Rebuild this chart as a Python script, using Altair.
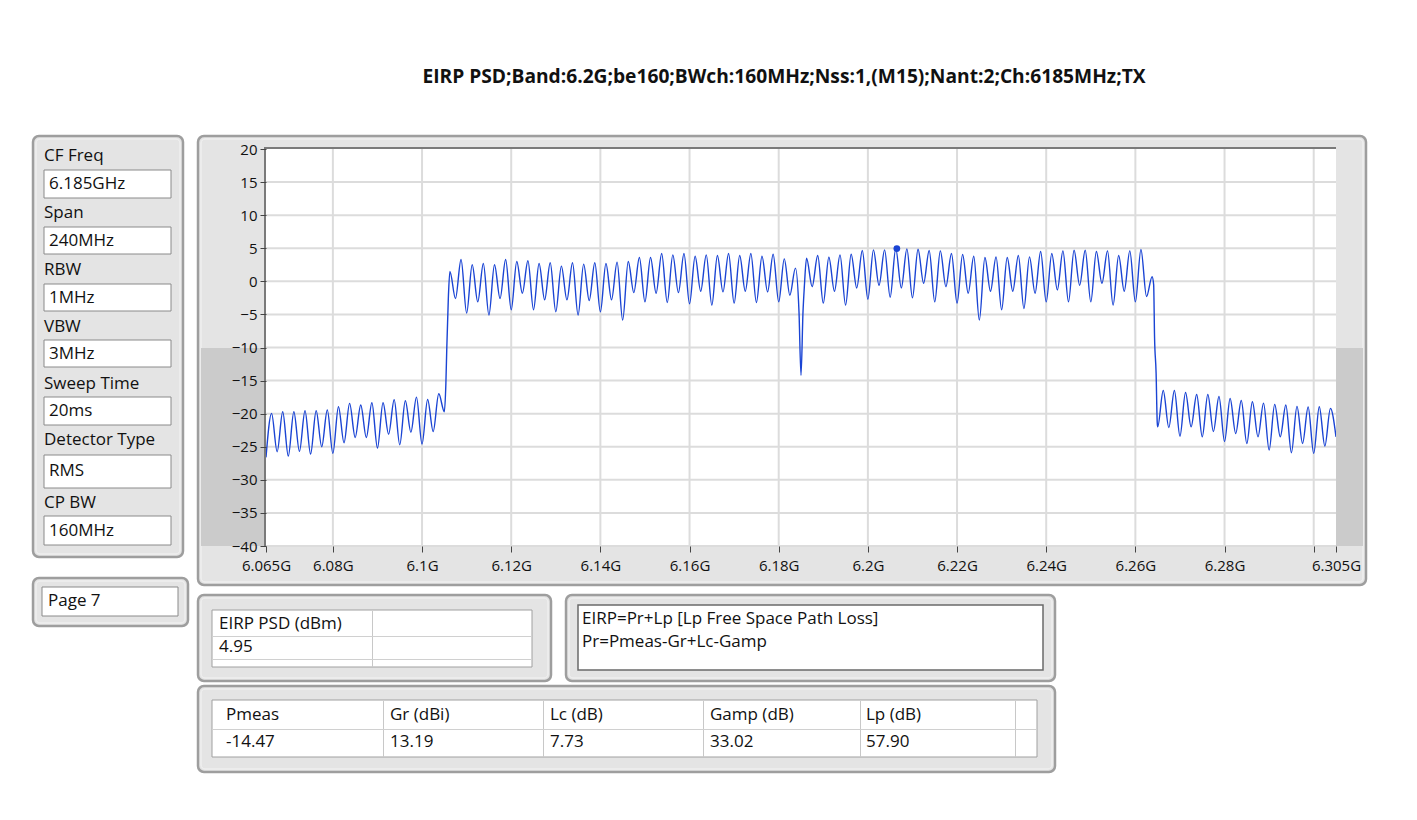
import altair as alt
import pandas as pd

# ---------------- data ----------------
title_text = "EIRP PSD;Band:6.2G;be160;BWch:160MHz;Nss:1,(M15);Nant:2;Ch:6185MHz;TX"
setting_names = ["CF Freq", "Span", "RBW", "VBW", "Sweep Time", "Detector Type", "CP BW"]
setting_values = ["6.185GHz", "240MHz", "1MHz", "3MHz", "20ms", "RMS", "160MHz"]
page_label = ["Page 7"]
eirp_header = ["EIRP PSD (dBm)"]
eirp_values = ["4.95"]
formula_lines = ["EIRP=Pr+Lp [Lp Free Space Path Loss]", "Pr=Pmeas-Gr+Lc-Gamp"]
param_headers = ["Pmeas", "Gr (dBi)", "Lc (dB)", "Gamp (dB)", "Lp (dB)"]
param_values = ["-14.47", "13.19", "7.73", "33.02", "57.90"]

# spectrum trace: analyzer sweep grid (start / step in MHz) and levels in dBm
sweep_start_mhz = 6065.0
sweep_step_mhz = 1.25
level_left = [-26.6, -19.95, -25.75, -19.7, -26.4, -19.7, -25.7, -19.55, -26.1, -19.55,
              -25.0, -19.45, -26.0, -18.95, -24.4, -18.45, -23.6, -18.7, -23.6, -18.35,
              -25.2, -18.35, -23.1, -17.9, -24.7, -18.05, -22.8, -17.5, -24.6, -17.85,
              -22.7, -17.0, -19.7]
level_band = [1.5, -2.6, 3.3, -4.8, 2.5, -3.1, 2.7, -5.1, 2.5, -2.6,
              3.3, -4.3, 3.0, -1.8, 3.1, -4.3, 2.7, -2.8, 2.8, -4.6,
              2.3, -2.8, 2.8, -5.1, 2.6, -2.9, 2.8, -4.6, 2.7, -2.8,
              2.9, -5.85, 3.0, -1.7, 3.6, -3.1, 3.6, -1.8, 4.2, -3.2,
              4.0, -1.7, 4.2, -3.4, 3.8, -1.5, 4.0, -3.6, 3.9, -1.6,
              4.2, -3.3, 3.9, -1.5, 4.2, -3.2, 3.8, -1.6, 4.1, -3.1,
              3.4, -2.1, 2.0, -14.2, 3.5, -0.8, 3.9, -3.3, 3.65, -1.5,
              4.0, -3.6, 4.1, -1.0, 4.65, -2.7, 4.75, -0.6, 4.75, -2.4,
              4.95, -1.0, 4.9, -2.5, 4.85, -0.3, 4.65, -3.1, 4.6, -0.8,
              4.2, -3.3, 4.05, -1.8, 3.8, -5.85, 3.6, -1.5, 3.7, -4.3,
              3.6, -1.5, 3.9, -4.1, 3.7, -1.8, 4.5, -3.1, 4.2, -1.3,
              4.6, -3.1, 4.7, -0.6, 4.7, -3.1, 4.5, -0.3, 4.6, -3.6,
              3.9, -1.5, 4.6, -3.1, 4.8, -2.3, 0.7]
level_right = [-22.0, -16.5, -22.1, -16.5, -23.4, -16.8, -22.0, -17.1, -23.5, -17.1,
               -22.7, -17.4, -24.2, -17.7, -23.0, -18.0, -24.5, -18.2, -23.5, -18.4,
               -25.5, -18.6, -23.5, -18.7, -25.9, -18.9, -24.5, -19.0, -26.0, -18.95,
               -24.9, -19.2, -23.5]
# extra points on the channel edges and the centre notch
edge_freq_mhz = [6105.35, 6105.55, 6105.9, 6184.55, 6185.45, 6185.75, 6264.1, 6264.3, 6264.65, 6264.9]
edge_level = [-15.4, -10.1, -2.5, -4.6, -4.6, -0.8, -0.5, -8.4, -13.9, -21.3]
marker_freq_mhz = [6206.5]
marker_level = [4.95]

x_tick_mhz = [6065, 6080, 6100, 6120, 6140, 6160, 6180, 6200, 6220, 6240, 6260, 6280, 6300, 6305]
x_tick_text = ["6.065G", "6.08G", "6.1G", "6.12G", "6.14G", "6.16G", "6.18G", "6.2G",
               "6.22G", "6.24G", "6.26G", "6.28G", "", "6.305G"]
y_ticks = [-40, -35, -30, -25, -20, -15, -10, -5, 0, 5, 10, 15, 20]

# ---------------- layout (page pixels) ----------------
OX, OY = 266, 149          # plot origin on the page
W, H = 1070, 397           # plot size
PAGE_W, PAGE_H = 1409, 808  # right / bottom edge of the drawing on the page
FONT = "Open Sans"

levels = level_left + level_band + level_right
grid_freq = [sweep_start_mhz + sweep_step_mhz * i for i in range(len(levels))]
trace = pd.DataFrame({"mhz": grid_freq + edge_freq_mhz, "dbm": levels + edge_level}).sort_values("mhz")
marker = pd.DataFrame({"mhz": marker_freq_mhz, "dbm": marker_level})

PANEL_FILL, PANEL_EDGE = "#e4e4e4", "#9e9e9e"
frames = [  # x, x2, y, y2
    (33, 183, 136, 557), (33, 188, 578, 626), (198, 1366, 136, 585),
    (198, 551, 595, 681), (566, 1055, 595, 681), (198, 1055, 686, 772),
]
frame_df = pd.DataFrame([dict(x=a - OX, x2=b - OX, y=c - OY, y2=d - OY) for a, b, c, d in frames])
inner_df = pd.DataFrame([dict(x=a + 3 - OX, x2=b - 3 - OX, y=c + 3 - OY, y2=d - 3 - OY) for a, b, c, d in frames])

boxes = []  # x, x2, y, y2, fill, stroke, width
boxes += [(201, 266, 348, 546, "#cbcbcb", "#cbcbcb", 0), (1336, 1363, 348, 546, "#cbcbcb", "#cbcbcb", 0)]
boxes += [(266, 1336, 149, 546, "#ffffff", "#ffffff", 0)]
value_box_y = [(170, 198), (227, 254), (284, 311), (340, 367), (397, 425), (455, 488), (516, 545)]
boxes += [(44, 171, a, b, "#ffffff", "#8a8a8a", 1) for a, b in value_box_y]
boxes += [(42, 178, 587, 616, "#ffffff", "#8a8a8a", 1)]
boxes += [(212, 532, 610, 667, "#ffffff", "#a0a0a0", 1)]
boxes += [(578, 1043, 605, 670, "#ffffff", "#6a6a6a", 1.5)]
boxes += [(212, 1037, 700, 757, "#ffffff", "#a0a0a0", 1)]
for xc in [372]:
    boxes += [(xc, xc + 1, 611, 667, "#c8c8c8", "#c8c8c8", 0)]
for yc in [636, 659]:
    boxes += [(212, 532, yc, yc + 1, "#d0d0d0", "#d0d0d0", 0)]
for xc in [383, 543, 703, 860, 1015]:
    boxes += [(xc, xc + 1, 701, 757, "#c8c8c8", "#c8c8c8", 0)]
boxes += [(212, 1037, 729, 730, "#d0d0d0", "#d0d0d0", 0)]
boxes += [(266, 1336, 147, 149, "#7a7a7a", "#7a7a7a", 0)]     # sunken top edge of plot
boxes += [(264, 266, 147, 546, "#7a7a7a", "#7a7a7a", 0)]      # sunken left edge of plot
box_df = pd.DataFrame([dict(x=a - OX, x2=b - OX, y=c - OY, y2=d - OY, fill=f, stroke=s, sw=w)
                       for a, b, c, d, f, s, w in boxes])

px = lambda v: alt.X(f"{v}:Q", scale=None, axis=None)
py = lambda v: alt.Y(f"{v}:Q", scale=None, axis=None)

frame_layer = alt.Chart(frame_df).mark_rect(
    cornerRadius=6, fill=PANEL_FILL, stroke=PANEL_EDGE, strokeWidth=2.5
).encode(x=px("x"), x2="x2", y=py("y"), y2="y2")
inner_layer = alt.Chart(inner_df).mark_rect(
    cornerRadius=4, fill=PANEL_FILL, stroke="#f4f4f4", strokeWidth=1
).encode(x=px("x"), x2="x2", y=py("y"), y2="y2")

box_layer = alt.Chart(box_df).mark_rect().encode(
    x=px("x"), x2="x2", y=py("y"), y2="y2",
    fill=alt.Fill("fill:N", scale=None),
    stroke=alt.Stroke("stroke:N", scale=None),
    strokeWidth=alt.StrokeWidth("sw:Q", scale=None),
)

xscale = alt.Scale(domain=[6065, 6305], nice=False, zero=False)
yscale = alt.Scale(domain=[-40, 20], nice=False, zero=False)

vgrid = alt.Chart(pd.DataFrame({"mhz": x_tick_mhz[1:-1]})).mark_rule(
    color="#dcdcdc", strokeWidth=2).encode(x=alt.X("mhz:Q", scale=xscale, axis=None))
hgrid = alt.Chart(pd.DataFrame({"dbm": y_ticks[:-1]})).mark_rule(
    color="#dcdcdc", strokeWidth=2).encode(y=alt.Y("dbm:Q", scale=yscale, axis=None))

label_expr = "".join(f"datum.value == {v} ? '{t}' : " for v, t in zip(x_tick_mhz, x_tick_text)) + "''"

line = alt.Chart(trace).mark_line(
    color="#1a44d4", strokeWidth=1.4, interpolate="monotone", clip=True
).encode(
    x=alt.X("mhz:Q", scale=xscale, axis=alt.Axis(
        values=x_tick_mhz, labelExpr=label_expr, grid=False, domain=False, title=None,
        tickColor="#444444", tickSize=6, labelFont=FONT, labelFontSize=15, labelColor="#111111",
        labelPadding=6, labelOverlap=False, labelFlush=False, zindex=1)),
    y=alt.Y("dbm:Q", scale=yscale, axis=alt.Axis(
        values=y_ticks, grid=False, domain=False, title=None,
        tickColor="#444444", tickSize=6, labelFont=FONT, labelFontSize=15, labelColor="#111111",
        labelPadding=3, labelOverlap=False, zindex=1)),
)

dot = alt.Chart(marker).mark_point(filled=True, size=45, color="#1a44d4", opacity=1).encode(
    x=alt.X("mhz:Q", scale=xscale, axis=None), y=alt.Y("dbm:Q", scale=yscale, axis=None))

# text rows
texts = []
name_y = [156, 213, 270, 327, 384, 440, 503]
value_y = [184, 241, 298, 354, 411, 471, 531]
texts += [(44, yy, t) for yy, t in zip(name_y, setting_names)]
texts += [(49, yy, t) for yy, t in zip(value_y, setting_values)]
texts += [(48, 601, page_label[0])]
texts += [(219, 624, eirp_header[0]), (219, 647, eirp_values[0])]
texts += [(582, 619, formula_lines[0]), (582, 642, formula_lines[1])]
col_x = [226, 390, 550, 710, 866]
texts += [(xx, 715, t) for xx, t in zip(col_x, param_headers)]
texts += [(xx, 742, t) for xx, t in zip(col_x, param_values)]
text_df = pd.DataFrame([dict(x=a - OX, y=b - OY, t=c) for a, b, c in texts])

text_layer = alt.Chart(text_df).mark_text(
    align="left", baseline="middle", font=FONT, fontSize=17, color="#111111"
).encode(x=px("x"), y=py("y"), text="t:N")

title_layer = alt.Chart(pd.DataFrame({"x": [784 - OX], "y": [77 - OY], "t": [title_text]})).mark_text(
    align="center", baseline="middle", font=FONT, fontSize=19.2, fontWeight="bold", color="#111111"
).encode(x=px("x"), y=py("y"), text="t:N")

chart = alt.layer(
    frame_layer, inner_layer, box_layer, vgrid, hgrid, line, dot, text_layer, title_layer
).resolve_axis(x="independent", y="independent").properties(
    width=W, height=H,
    autosize=alt.AutoSizeParams(type="none"),
    padding={"left": OX - 8, "top": OY - 8, "right": PAGE_W - (OX + W), "bottom": PAGE_H - (OY + H)},
).configure_view(stroke=None).configure(background="white")

chart.save("out.html", embed_options={"renderer": "svg", "actions": False})
